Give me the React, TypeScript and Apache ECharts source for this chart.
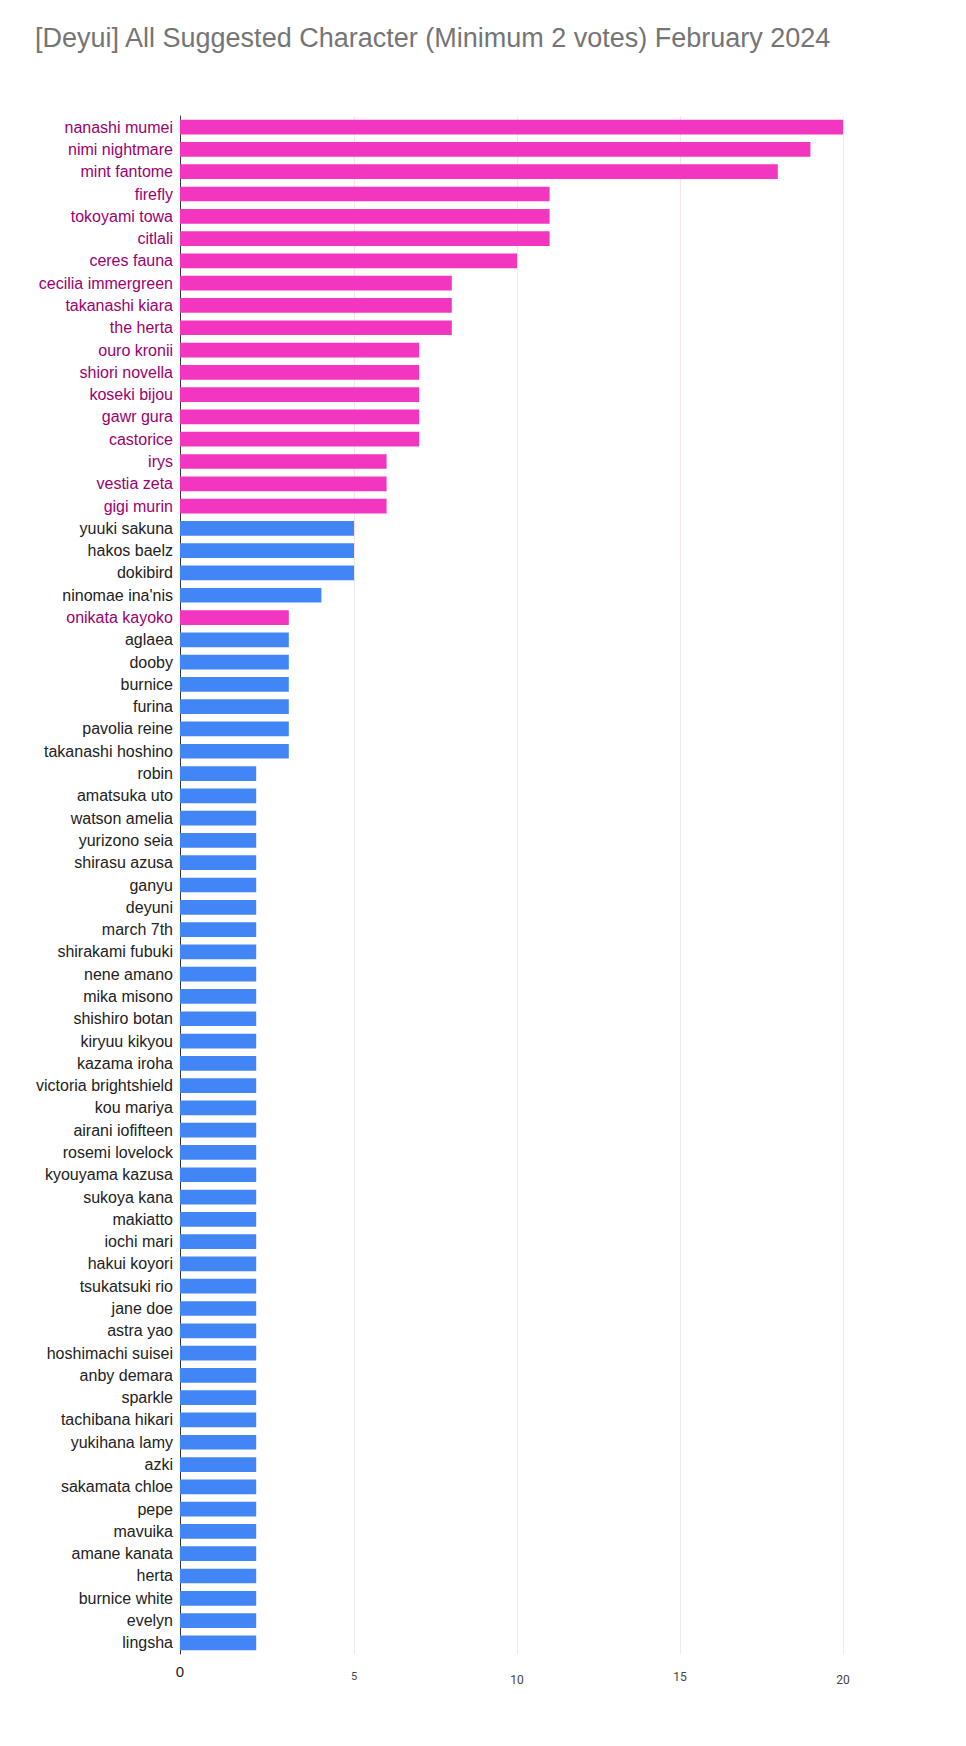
import React, { useEffect, useRef } from "react";
import * as echarts from "echarts";

const TITLE = "[Deyui] All Suggested Character (Minimum 2 votes) February 2024";

const categories = [
  "nanashi mumei", "nimi nightmare", "mint fantome", "firefly", "tokoyami towa", "citlali",
  "ceres fauna", "cecilia immergreen", "takanashi kiara", "the herta", "ouro kronii",
  "shiori novella", "koseki bijou", "gawr gura", "castorice", "irys", "vestia zeta",
  "gigi murin", "yuuki sakuna", "hakos baelz", "dokibird", "ninomae ina'nis",
  "onikata kayoko", "aglaea", "dooby", "burnice", "furina", "pavolia reine",
  "takanashi hoshino", "robin", "amatsuka uto", "watson amelia", "yurizono seia",
  "shirasu azusa", "ganyu", "deyuni", "march 7th", "shirakami fubuki", "nene amano",
  "mika misono", "shishiro botan", "kiryuu kikyou", "kazama iroha",
  "victoria brightshield", "kou mariya", "airani iofifteen", "rosemi lovelock",
  "kyouyama kazusa", "sukoya kana", "makiatto", "iochi mari", "hakui koyori",
  "tsukatsuki rio", "jane doe", "astra yao", "hoshimachi suisei", "anby demara",
  "sparkle", "tachibana hikari", "yukihana lamy", "azki", "sakamata chloe", "pepe",
  "mavuika", "amane kanata", "herta", "burnice white", "evelyn", "lingsha",
];

const votes = [
  20, 19, 18, 11, 11, 11,
  10, 8, 8, 8, 7,
  7, 7, 7, 7, 6, 6,
  6, 5, 5, 5, 4,
  3, 3, 3, 3, 3, 3,
  3, 2, 2, 2, 2,
  2, 2, 2, 2, 2, 2,
  2, 2, 2, 2,
  2, 2, 2, 2,
  2, 2, 2, 2, 2,
  2, 2, 2, 2, 2,
  2, 2, 2, 2, 2, 2,
  2, 2, 2, 2, 2, 2,
];

// Characters drawn in pink (the rest are blue)
const pinkNames = [
  "nanashi mumei", "nimi nightmare", "mint fantome", "firefly", "tokoyami towa", "citlali",
  "ceres fauna", "cecilia immergreen", "takanashi kiara", "the herta", "ouro kronii",
  "shiori novella", "koseki bijou", "gawr gura", "castorice", "irys", "vestia zeta",
  "gigi murin", "onikata kayoko",
];

const xTicks = [0, 5, 10, 15, 20];

const PINK = "#f336c0";
const BLUE = "#4285f4";
const PINK_LABEL = "#9c0070";
const DARK_LABEL = "#222222";

const W = 966;
const H = 1746;
const GRID_LEFT = 191;
const GRID_RIGHT = 123;
const GRID_TOP = 116;
const GRID_BOTTOM = 92;
const AXIS_SHIFT = 11; // y axis line sits left of the zero line
const BAR_BASE = -0.34; // bars start at the axis line
const BAR_RATIO = 0.66;

export default function App() {
  const ref = useRef<HTMLDivElement>(null);

  useEffect(() => {
    if (!ref.current) return;
    const chart = echarts.init(ref.current, null, { renderer: "svg" });

    const gridLineColor = new echarts.graphic.LinearGradient(
      0, GRID_TOP, 0, H - GRID_BOTTOM,
      [
        { offset: 0, color: "#fde1f3" },
        { offset: 0.285, color: "#fde1f3" },
        { offset: 0.29, color: "#ececec" },
        { offset: 1, color: "#ececec" },
      ],
      true
    );

    const isPink = (name: string) => pinkNames.includes(name);

    chart.setOption({
      animation: false,
      backgroundColor: "#ffffff",
      title: {
        text: TITLE,
        left: 30,
        top: 19,
        textStyle: {
          fontFamily: "'Liberation Sans', Arial, sans-serif",
          fontSize: 27,
          fontWeight: "normal",
          color: "#757575",
        },
      },
      grid: {
        left: GRID_LEFT,
        right: GRID_RIGHT,
        top: GRID_TOP,
        bottom: GRID_BOTTOM,
        containLabel: false,
      },
      xAxis: {
        type: "value",
        min: 0,
        max: 20,
        interval: 5,
        axisLine: { show: false },
        axisTick: { show: false },
        splitLine: {
          show: true,
          showMinLine: false,
          lineStyle: { color: gridLineColor, width: 1 },
        },
        axisLabel: {
          margin: 10,
          verticalAlign: "top",
          fontFamily: "'Liberation Sans Narrow', 'Roboto', sans-serif",
          formatter: (v: number) => (xTicks.includes(v) ? `{t${v}|${v}}` : ""),
          rich: {
            t0: { fontSize: 15, color: "#222222", padding: [0, 22, 0, 0], fontFamily: "'Liberation Sans', Arial, sans-serif" },
            t5: { fontSize: 11, color: "#444444", padding: [7, 0, 0, 0] },
            t10: { fontSize: 12, color: "#444444", padding: [10, 0, 0, 0] },
            t15: { fontSize: 12, color: "#444444", padding: [7, 0, 0, 0] },
            t20: { fontSize: 12, color: "#444444", padding: [10, 0, 0, 0] },
          },
        },
      },
      yAxis: {
        type: "category",
        data: categories,
        inverse: true,
        offset: AXIS_SHIFT,
        axisLine: { show: true, onZero: false, lineStyle: { color: "#333333", width: 1 } },
        axisTick: { show: false },
        splitLine: { show: false },
        axisLabel: {
          interval: 0,
          margin: 7,
          fontSize: 16,
          fontFamily: "'Liberation Sans', Arial, sans-serif",
          color: (value: string) => (isPink(value) ? PINK_LABEL : DARK_LABEL),
        },
      },
      series: [
        {
          type: "custom",
          clip: false,
          encode: { x: 0, y: 1 },
          data: votes.map((v, i) => [v, i]),
          renderItem: (params: any, api: any) => {
            const v = api.value(0);
            const idx = api.value(1);
            const start = api.coord([BAR_BASE, idx]);
            const end = api.coord([v, idx]);
            const band = api.size([0, 1])[1];
            const h = band * BAR_RATIO;
            return {
              type: "rect",
              shape: { x: start[0], y: start[1] - h / 2, width: end[0] - start[0], height: h },
              style: { fill: isPink(categories[idx]) ? PINK : BLUE },
            };
          },
        },
      ],
    });

    return () => chart.dispose();
  }, []);

  return (
    <div
      ref={ref}
      style={{ position: "absolute", left: 0, top: 0, width: W, height: H, background: "#fff" }}
    />
  );
}
